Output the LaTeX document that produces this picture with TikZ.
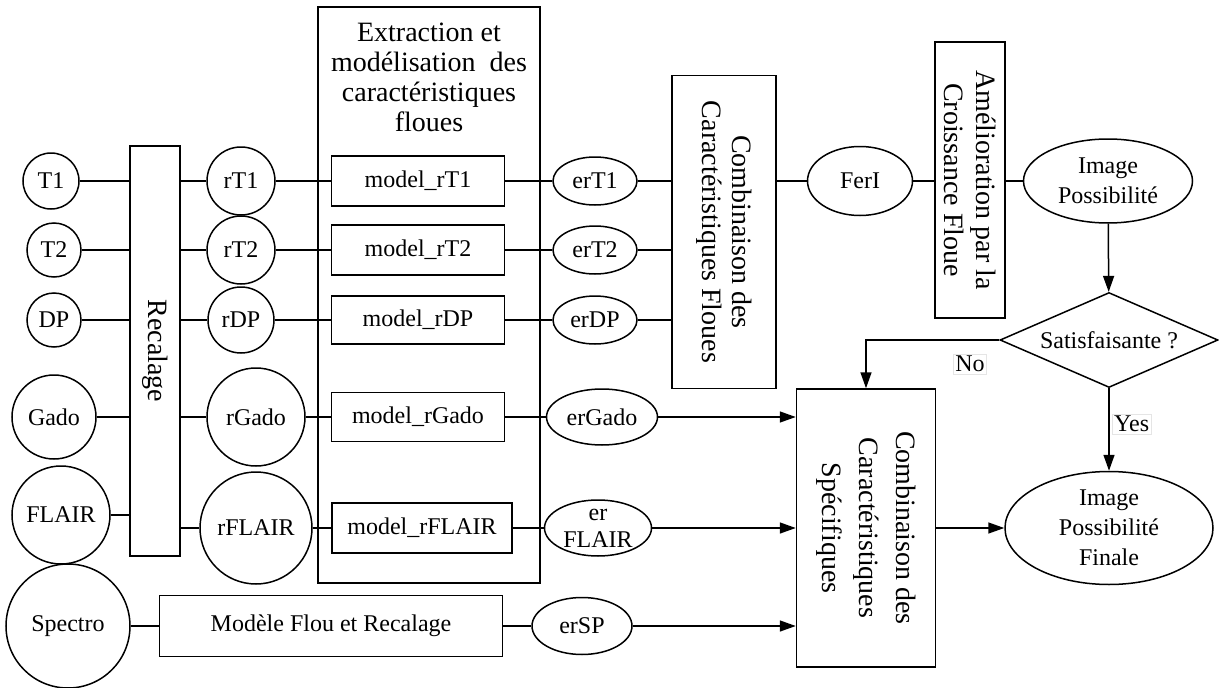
\documentclass[tikz,border=0pt]{standalone}
\usepackage{fontspec}
\setmainfont{Liberation Serif}
\usetikzlibrary{shapes.geometric}
\usetikzlibrary{arrows.meta}

\begin{document}
\begin{tikzpicture}[x=1pt,y=-1pt,line width=1.5pt,
  every node/.style={font=\fontsize{24}{30}\selectfont,inner sep=0pt},
  img/.style={draw,circle},
  boite/.style={draw,rectangle},
  ell/.style={draw,ellipse},
  titre/.style={font=\fontsize{28}{30}\selectfont,align=center},
  lab/.style={draw=black!10,line width=0.4pt,fill=white,inner sep=2pt},
  fleche/.style={-{Triangle[length=16pt,width=11pt]}}]
\useasboundingbox (0,0) rectangle (1219,688);

% images d'entree
\node[img,minimum size=56pt] (T1) at (51,181) {T1};
\node[img,minimum size=54pt] (T2) at (54,250) {T2};
\node[img,minimum size=54pt] (DP) at (54,320) {DP};
\node[img,minimum size=84pt] (Gado) at (54,417) {Gado};
\node[img,minimum size=98pt] (FLAIR) at (61,515) {FLAIR};
\node[img,minimum size=124pt] (Spectro) at (68,626) {Spectro};

\node[boite,minimum width=50pt,minimum height=410pt,
  label={[titre,rotate=-90]center:Recalage}] (recal) at (155,351) {};

% images recalees
\node[img,minimum size=68pt] (rT1) at (241,181) {rT1};
\node[img,minimum size=68pt] (rT2) at (241,250) {rT2};
\node[img,minimum size=66pt] (rDP) at (241,320) {rDP};
\node[img,minimum size=98pt] (rGado) at (256,417) {rGado};
\node[img,minimum size=112pt] (rFLAIR) at (256,528) {rFLAIR};

% extraction
\node[boite,minimum width=222pt,minimum height=576pt] (extr) at (429,295) {};
\node[titre] (extrtitre) at (429,77) {Extraction et\\modélisation\ \ des\\caractéristiques\\floues};
\node[boite,minimum width=173pt,minimum height=50pt] (mT1) at (418,181) {model\_rT1};
\node[boite,minimum width=173pt,minimum height=50pt] (mT2) at (418,250) {model\_rT2};
\node[boite,minimum width=173pt,minimum height=48pt] (mDP) at (418,320) {model\_rDP};
\node[boite,minimum width=173pt,minimum height=49pt] (mGado) at (418,417) {model\_rGado};
\node[boite,minimum width=180pt,minimum height=50pt] (mFLAIR) at (422,528) {model\_rFLAIR};

\node[ell,minimum width=84pt,minimum height=48pt] (erT1) at (595,181) {erT1};
\node[ell,minimum width=84pt,minimum height=48pt] (erT2) at (595,250) {erT2};
\node[ell,minimum width=84pt,minimum height=48pt] (erDP) at (595,320) {erDP};
\node[ell,minimum width=111pt,minimum height=56pt] (erGado) at (602,417) {erGado};
\node[ell,minimum width=107pt,minimum height=56pt,
  label={[align=center,font=\fontsize{24}{27}\selectfont]center:{er\\FLAIR}}] (erFLAIR) at (598,528) {};

% spectro
\node[boite,minimum width=343pt,minimum height=61pt] (modele) at (331,626) {Modèle Flou et Recalage};
\node[ell,minimum width=100pt,minimum height=57pt] (erSP) at (582,626) {erSP};

% combinaisons
\node[boite,minimum width=104pt,minimum height=313pt,
  label={[titre,rotate=-90]center:{Combinaison des\\Caractéristiques Floues}}] (combf) at (724,232) {};
\node[ell,minimum width=105pt,minimum height=69pt] (FerI) at (860,181) {FerI};
\node[boite,minimum width=70pt,minimum height=276pt,
  label={[titre,font=\fontsize{28}{32}\selectfont,rotate=-90]center:{Amélioration par la\\Croissance Floue}}] (amel) at (970,180) {};
\node[ell,minimum width=169pt,minimum height=84pt,align=center] (imgp) at (1108,181) {Image\\Possibilité};
\node[draw,diamond,aspect=2.3,minimum width=218pt,minimum height=95pt] (sat) at (1109,340) {Satisfaisante ?};
\node[boite,minimum width=139pt,minimum height=278pt,
  label={[titre,font=\fontsize{28}{37}\selectfont,rotate=-90]center:{Combinaison des\\Caractéristiques\\Spécifiques}}] (cs) at (866,528) {};
\node[ell,minimum width=208pt,minimum height=113pt,
  label={[align=center]center:{Image\\Possibilité\\Finale}}] (fin) at (1109,528) {};

% liaisons
\foreach \n in {T1,T2,DP,Gado,FLAIR}
  \draw (\n) -- (\n -| recal.west);
\foreach \n in {T1,T2,DP,Gado,FLAIR}
  \draw (recal.east |- r\n) -- (r\n);
\foreach \n in {T1,T2,DP,Gado,FLAIR}
  \draw (r\n) -- (m\n) (m\n) -- (er\n);
\foreach \n in {T1,T2,DP}
  \draw (er\n) -- (er\n -| combf.west);
\foreach \n in {Gado,FLAIR,SP}
  \draw[fleche] (er\n) -- (er\n -| cs.west);
\draw (Spectro) -- (modele);
\draw (modele) -- (erSP);
\draw (combf.east |- FerI) -- (FerI);
\draw (FerI) -- (amel.west |- FerI);
\draw (amel.east |- imgp) -- (imgp);
\draw[fleche] (imgp) -- (sat);
\draw[fleche] (sat) -- node[pos=0.43,right=3pt,lab] {Yes} (fin);
\draw[fleche] (sat.west) -| node[pos=0.11,below=14pt,lab] {No} (cs.north);
\draw[fleche] (cs) -- (fin);
\end{tikzpicture}
\end{document}
